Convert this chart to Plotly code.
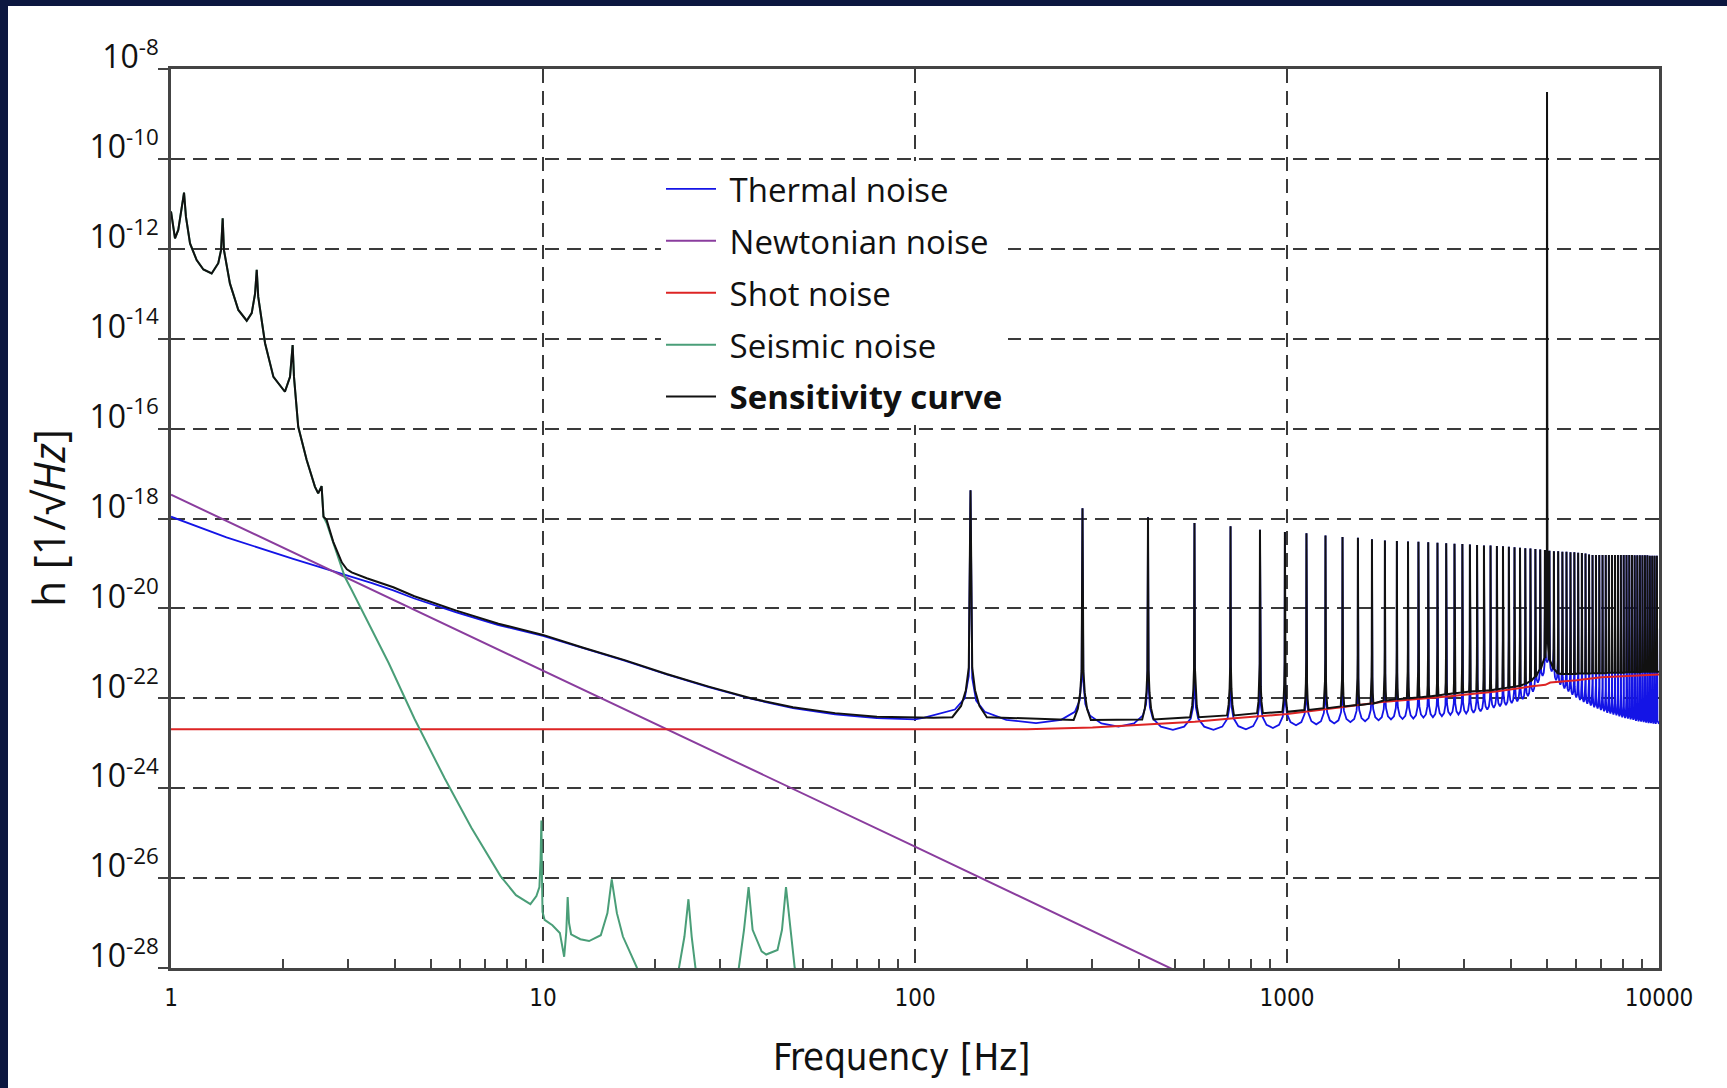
import plotly.graph_objects as go

# ---------------- data (values are log10 of strain amplitude) ----------------
SEISMIC_F = [1.0, 1.01, 1.025, 1.046, 1.068, 1.084, 1.097, 1.125, 1.172, 1.222,
             1.286, 1.34, 1.363, 1.377, 1.388, 1.44, 1.517, 1.598, 1.648, 1.683,
             1.70, 1.716, 1.79, 1.885, 2.024, 2.089, 2.123, 2.141, 2.198, 2.316,
             2.437, 2.487, 2.54, 2.57, 2.62, 2.79, 2.93, 3.06, 3.85, 4.51,
             4.65, 5.44, 6.42, 7.68, 8.46, 9.25, 9.6, 9.78, 9.85, 9.9,
             9.93, 9.97, 10.1, 10.6, 11.1, 11.4, 11.55, 11.65, 11.75, 11.9,
             12.6, 13.3, 14.3, 14.9, 15.3, 15.8, 16.4, 17.9, 20.5, 23.2,
             24.0, 24.6, 25.1, 25.7, 29.5, 33.6, 34.7, 35.7, 36.6, 38.7,
             39.8, 42.7, 43.9, 45.0, 46.3, 47.5, 50.0]
SEISMIC_H = [-11.17, -11.40, -11.77, -11.58, -11.14, -10.75, -11.29, -11.88, -12.25, -12.46,
             -12.55, -12.32, -12.03, -11.32, -12.03, -12.77, -13.36, -13.60, -13.43, -12.99,
             -12.47, -13.07, -14.10, -14.85, -15.18, -14.85, -14.14, -14.85, -15.96, -16.70,
             -17.29, -17.44, -17.28, -17.96, -18.10, -18.77, -19.29, -19.59, -21.22, -22.45,
             -22.67, -23.78, -24.88, -25.95, -26.38, -26.58, -26.40, -26.20, -25.60, -24.72,
             -25.80, -26.75, -26.93, -27.05, -27.22, -27.75, -27.20, -26.42, -27.00, -27.25,
             -27.36, -27.40, -27.27, -26.78, -26.03, -26.78, -27.30, -28.00, -29.00, -28.00,
             -27.30, -26.47, -27.30, -28.00, -29.00, -28.00, -27.15, -26.20, -27.15, -27.63,
             -27.70, -27.60, -27.15, -26.20, -27.15, -28.00, -28.80]

THERMAL_LOW_F = [1, 1.41, 2.13, 2.97, 3.47, 3.96, 4.51, 5.85, 7.59, 10,
                 12.77, 16.57, 21.5, 27.9, 36.2, 47, 61, 79, 100]
THERMAL_LOW_H = [-17.96, -18.42, -18.90, -19.26, -19.44, -19.60, -19.78, -20.09, -20.37, -20.61,
                 -20.88, -21.16, -21.47, -21.75, -22.01, -22.22, -22.36, -22.44, -22.47]

SENS_MID_F = [2.62, 2.73, 2.88, 2.97, 3.06, 3.36, 3.96, 4.51, 5.85, 7.59,
              10, 12.77, 16.57, 21.5, 27.9, 36.2, 47, 61, 79, 100, 112]
SENS_MID_H = [-18.03, -18.52, -18.98, -19.13, -19.20, -19.33, -19.53, -19.73, -20.05, -20.34,
              -20.59, -20.87, -21.15, -21.46, -21.74, -22.00, -22.20, -22.33, -22.41, -22.43, -22.43]

NEWTON_F = [1, 10, 100, 520]
NEWTON_H = [-17.47, -21.38, -25.30, -28.12]

SHOT_F = [1, 200, 300, 423, 565, 707, 851, 1000, 1400, 1800,
          2700, 3640, 4500, 4950, 5100, 6000, 7000, 10000]
SHOT_H = [-22.69, -22.69, -22.65, -22.58, -22.52, -22.45, -22.39, -22.35, -22.20, -22.08,
          -21.96, -21.85, -21.74, -21.70, -21.65, -21.60, -21.53, -21.47]

# violin-mode harmonics of the suspension
VIOLIN_F = [141, 282, 423, 564, 705, 846, 987, 1128, 1269, 1410,
            1551, 1692, 1833, 1974, 2115, 2256, 2397, 2538, 2679, 2820,
            2961, 3102, 3243, 3384, 3525, 3666, 3807, 3948, 4089, 4230,
            4371, 4512, 4653, 4794, 4935, 5076, 5217, 5358, 5499, 5640,
            5781, 5922, 6063, 6204, 6345, 6486, 6627, 6768, 6909, 7050,
            7191, 7332, 7473, 7614, 7755, 7896, 8037, 8178, 8319, 8460,
            8601, 8742, 8883, 9024, 9165, 9306, 9447, 9588, 9729, 9870]
VIOLIN_TOP = [-17.37, -17.77, -17.97, -18.10, -18.17, -18.25, -18.30, -18.33, -18.38, -18.41,
              -18.43, -18.46, -18.49, -18.50, -18.51, -18.52, -18.53, -18.54, -18.55, -18.56,
              -18.57, -18.58, -18.59, -18.60, -18.60, -18.61, -18.62, -18.63, -18.64, -18.65,
              -18.66, -18.67, -18.68, -18.69, -18.70, -18.72, -18.73, -18.73, -18.74, -18.74,
              -18.75, -18.75, -18.76, -18.77, -18.78, -18.80, -18.81, -18.81, -18.81, -18.81,
              -18.81, -18.81, -18.81, -18.81, -18.81, -18.81, -18.81, -18.81, -18.81, -18.81,
              -18.82, -18.82, -18.82, -18.82, -18.82, -18.82, -18.83, -18.83, -18.83, -18.83]
SENS_FLOOR = [-22.42, -22.48, -22.47, -22.42, -22.38, -22.33, -22.30, -22.26, -22.22, -22.18,
              -22.15, -22.12, -22.05, -22.02, -22.00, -21.98, -21.96, -21.94, -21.91, -21.89,
              -21.87, -21.85, -21.84, -21.83, -21.82, -21.80, -21.78, -21.76, -21.74, -21.72,
              -21.68, -21.62, -21.52, -21.35, -21.10, -21.15, -21.35, -21.45, -21.46, -21.46,
              -21.46, -21.46, -21.45, -21.45, -21.45, -21.45, -21.44, -21.44, -21.44, -21.44,
              -21.44, -21.43, -21.43, -21.43, -21.43, -21.43, -21.43, -21.42, -21.42, -21.42,
              -21.42, -21.42, -21.42, -21.41, -21.41, -21.41, -21.41, -21.41, -21.41, -21.41]
THERM_DIP = [-22.50,
             -22.55, -22.63, -22.70, -22.70, -22.69, -22.66, -22.60, -22.58, -22.56, -22.53,
             -22.51, -22.49, -22.47, -22.46, -22.45, -22.43, -22.42, -22.40, -22.37, -22.36,
             -22.34, -22.32, -22.29, -22.25, -22.21, -22.18, -22.15, -22.11, -22.07, -22.02,
             -21.95, -21.85, -21.65, -21.50, -21.20, -21.40, -21.60, -21.70, -21.78, -21.85,
             -21.92, -21.98, -22.04, -22.08, -22.12, -22.16, -22.20, -22.23, -22.26, -22.29,
             -22.32, -22.34, -22.36, -22.38, -22.40, -22.42, -22.44, -22.45, -22.47, -22.48,
             -22.50, -22.51, -22.52, -22.53, -22.54, -22.55, -22.55, -22.56, -22.57, -22.57]

# mirror drum-mode resonance near 5 kHz
DRUM_F = [4965, 4985, 4995, 5000, 5005, 5015, 5035]
DRUM_H = [-20.85, -20.55, -20.20, -8.51, -20.20, -20.55, -20.85]

X_TICKS = [1, 10, 100, 1000, 10000]
X_TICK_TEXT = ["1", "10", "100", "1000", "10000"]
X_MINOR = [m * d for d in (1, 10, 100, 1000) for m in range(2, 10)]
Y_EXP = [-8, -10, -12, -14, -16, -18, -20, -22, -24, -26, -28]

NAMES = ["Thermal noise", "Newtonian noise", "Shot noise", "Seismic noise",
         "<b>Sensitivity curve</b>"]
COLORS = ["#1414e6", "#8a3d9e", "#dd2424", "#4a9e78", "#111111"]

assert len(SEISMIC_F) == len(SEISMIC_H)
assert len(THERMAL_LOW_F) == len(THERMAL_LOW_H)
assert len(SENS_MID_F) == len(SENS_MID_H)
assert len(SHOT_F) == len(SHOT_H)
assert len(VIOLIN_F) == len(VIOLIN_TOP) == len(SENS_FLOOR) == len(THERM_DIP) - 1

# ---------------- spike profiles (shape only, Hz offsets / dex rises) ----------------
SPIKE_DF = [-15, -8, -4, -1.5, 0, 1.5, 4, 8, 15]
SPIKE_RISE = [0, 0.25, 0.6, 1.1, None, 1.1, 0.6, 0.25, 0]
BLUE_DF = [-35, -13, -5, -1.5, 0, 1.5, 5, 13, 35]
BLUE_RISE = [0.07, 0.25, 0.5, 1.0, None, 1.0, 0.5, 0.25, 0.07]

# sensitivity curve
sens = [(f, h) for f, h in zip(SEISMIC_F, SEISMIC_H) if f <= 2.57]
sens += list(zip(SENS_MID_F, SENS_MID_H))
for f, top, floor in zip(VIOLIN_F, VIOLIN_TOP, SENS_FLOOR):
    for df, r in zip(SPIKE_DF, SPIKE_RISE):
        sens.append((f + df, top if r is None else floor + r))
sens += list(zip(DRUM_F, DRUM_H))
sens.append((10000, SENS_FLOOR[-1]))
sens.sort()

# thermal noise
therm = list(zip(THERMAL_LOW_F, THERMAL_LOW_H))
for i, (f, top) in enumerate(zip(VIOLIN_F, VIOLIN_TOP)):
    left, right = THERM_DIP[i], THERM_DIP[i + 1]
    for df, r in zip(BLUE_DF, BLUE_RISE):
        base = left if df < 0 else right
        therm.append((f + df, top if r is None else base + r))
    if i + 1 < len(VIOLIN_F):
        therm.append(((f + VIOLIN_F[i + 1]) / 2, right))
therm.append((10000, THERM_DIP[-1]))
therm.sort()

series = [
    ([p[0] for p in therm], [p[1] for p in therm], 1.8),
    (NEWTON_F, NEWTON_H, 2.0),
    (SHOT_F, SHOT_H, 2.0),
    (SEISMIC_F, SEISMIC_H, 2.0),
    ([p[0] for p in sens], [p[1] for p in sens], 2.0),
]

fig = go.Figure()
for i, ((fx, hy, w), name, col) in enumerate(zip(series, NAMES, COLORS)):
    fig.add_trace(go.Scatter(
        x=fx, y=[10 ** v for v in hy], mode="lines", name="\u00a0" + name,
        line=dict(color=col, width=w), legendgroup=f"g{i}", hoverinfo="skip"))

W, H = 1727, 1088
L, R, T, B = 171, 68, 69, 120
pw, ph = W - L - R, H - T - B

def px_x(x):
    return (x - L) / pw

def px_y(y):
    return 1 - (y - T) / ph

grid = dict(showgrid=True, gridcolor="#3a3a3a", gridwidth=2, griddash="14px,8px",
            showline=True, mirror=True, linecolor="#444444", linewidth=2.5,
            zeroline=False)
COND = "DejaVu Sans Condensed, DejaVu Sans, sans-serif"

fig.update_layout(
    width=W, height=H,
    margin=dict(l=L, r=R, t=T, b=B),
    paper_bgcolor="white", plot_bgcolor="white",
    xaxis=dict(type="log", range=[0, 4], tickvals=X_TICKS, ticktext=X_TICK_TEXT,
               ticks="", ticklabelstandoff=6,
               tickfont=dict(family=COND, size=24, color="#111"),
               minor=dict(tickvals=X_MINOR, ticks="inside", ticklen=9, tickwidth=2,
                          tickcolor="#444444", showgrid=False),
               **grid),
    yaxis=dict(type="log", range=[-28, -8], tickvals=[10 ** e for e in Y_EXP],
               ticktext=[f"10<sup>{e}</sup>" for e in Y_EXP],
               ticks="outside", ticklen=10, tickwidth=2, tickcolor="#444444",
               ticklabelshift=-12, ticklabelstandoff=-7,
               tickfont=dict(family="Open Sans", size=32, color="#111"),
               **grid),
    legend=dict(x=px_x(661), y=px_y(161), xanchor="left", yanchor="top",
                bgcolor="white", borderwidth=0, traceorder="grouped",
                tracegroupgap=6, itemwidth=50,
                font=dict(family="Open Sans", size=33, color="#111")),
    annotations=[
        dict(text="h [1/√<i>Hz</i>]", xref="paper", yref="paper",
             x=px_x(48), y=px_y(518), xanchor="center", yanchor="middle",
             textangle=-90, showarrow=False,
             font=dict(family="Open Sans", size=43, color="#111")),
        dict(text="Frequency [Hz]", xref="paper", yref="paper",
             x=px_x(901), y=px_y(1057), xanchor="center", yanchor="middle",
             showarrow=False,
             font=dict(family=COND, size=38, color="#111")),
    ],
    shapes=[
        dict(type="rect", xref="paper", yref="paper", layer="above",
             x0=px_x(0), x1=px_x(8), y0=px_y(H), y1=px_y(0),
             fillcolor="#0c1740", line=dict(width=0)),
        dict(type="rect", xref="paper", yref="paper", layer="above",
             x0=px_x(0), x1=px_x(W), y0=px_y(6), y1=px_y(0),
             fillcolor="#0c1740", line=dict(width=0)),
    ],
)

fig.write_html("out.html", config={"displayModeBar": False},
               post_script="document.body.style.margin='0';document.body.style.overflow='hidden';")
